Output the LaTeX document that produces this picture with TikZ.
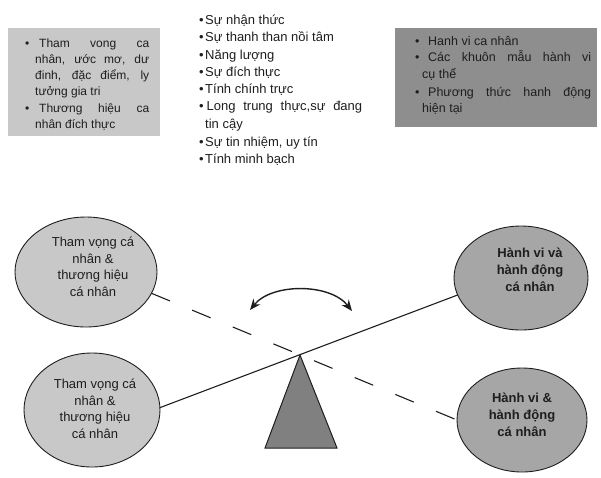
\documentclass[tikz,border=0pt]{standalone}
\usepackage{fontspec}
\setmainfont{Liberation Sans}
\usetikzlibrary{shapes.geometric,arrows.meta}

\definecolor{inkc}{HTML}{1E1E1E}
\definecolor{lightfill}{HTML}{C8C8C8}
\definecolor{darkfill}{HTML}{8E8E8E}
\definecolor{midfill}{HTML}{A6A6A6}
\definecolor{pivotfill}{HTML}{808080}

% bullet item: #1 hang for the wrapped lines, #2 extra gap on the first line, #3 text
\newcommand{\bitem}[3]{\par\noindent\makebox[#1][l]{\strut\textbullet}%
  \parbox[t]{\dimexpr\linewidth-#1\relax}{\strut\hspace*{#2}#3\strut}\par}
% justified block of a given width
\newcommand{\blockof}[2]{\begin{minipage}[t]{#1}\parindent=0pt\parskip=0pt #2\end{minipage}}

\begin{document}
\begin{tikzpicture}[x=1pt,y=-1pt,
  panel/.style={rectangle,inner sep=0pt,outer sep=0pt,draw=none,anchor=north west},
  listtext/.style={inner sep=0pt,anchor=north west,text=inkc},
  bubble/.style={ellipse,draw=inkc,line width=0.9pt,inner sep=0pt,outer sep=0pt},
  bubbletext/.style={align=center,inner sep=0pt,text=inkc,
    font=\fontsize{13}{16.5}\selectfont},
  beam/.style={draw=inkc,line width=1.1pt},
  swing/.style={draw=inkc,line width=1.4pt,{Stealth[length=11pt,width=9pt]}-{Stealth[length=11pt,width=9pt]}}
]
\useasboundingbox (0,0) rectangle (601,477);

% top panels
\node[panel,fill=lightfill,minimum width=152pt,minimum height=108pt] (lbox) at (8,28) {};
\node[panel,fill=darkfill,minimum width=202pt,minimum height=99pt] (rbox) at (395,28) {};

\node[listtext,font=\fontsize{12}{16}\selectfont] (ltext) at (25,36) {\blockof{124pt}{%
  \bitem{10pt}{4pt}{Tham vong ca\linebreak nhân, ước mơ, dư\linebreak đinh, đặc điểm, ly\linebreak tưởng gia tri}%
  \bitem{10pt}{4pt}{Thương hiệu ca\linebreak nhân đích thực}}};

\node[listtext,font=\fontsize{13}{17.25}\selectfont] (mtext) at (199,12.4) {\blockof{163pt}{%
  \bitem{6pt}{0pt}{Sự nhận thức}%
  \bitem{6pt}{0pt}{Sự thanh than nồi tâm}%
  \bitem{6pt}{0pt}{Năng lượng}%
  \bitem{6pt}{0pt}{Sự đích thực}%
  \bitem{6pt}{0pt}{Tính chính trực}%
  \bitem{6pt}{1.5pt}{Long trung thực,sự đang\linebreak tin cậy}%
  \bitem{6pt}{0pt}{Sự tin nhiệm, uy tín}%
  \bitem{6pt}{0pt}{Tính minh bạch}}};

\node[listtext,font=\fontsize{12.5}{16.6}\selectfont] (rtext) at (415,33.5) {\blockof{176pt}{%
  \bitem{7pt}{6pt}{Hanh vi ca nhân}%
  \bitem{7pt}{6pt}{Các khuôn mẫu hành vi\linebreak cụ thể}%
  \bitem{7pt}{6pt}{Phương thức hanh động\linebreak hiện tại}}};

% bubbles
\node[bubble,fill=lightfill,minimum width=142pt,minimum height=110pt] (lt) at (86,272) {};
\node[bubble,fill=lightfill,minimum width=136pt,minimum height=114pt] (lb) at (92,410) {};
\node[bubble,fill=midfill,minimum width=134pt,minimum height=104pt] (rt) at (521,278) {};
\node[bubble,fill=midfill,minimum width=130pt,minimum height=104pt] (rb) at (522,420) {};

\node[bubbletext] (ltt) at ([shift={(7,-5)}]lt.center) {Tham vọng cá\\nhân \&\\thương hiệu\\cá nhân};
\node[bubbletext] (lbt) at ([shift={(3,-1)}]lb.center) {Tham vọng cá\\nhân \&\\thương hiệu\\cá nhân};
\node[bubbletext,font=\bfseries\fontsize{13}{17}\selectfont] (rtt) at ([shift={(9,-8)}]rt.center) {Hành vi và\\hành động\\cá nhân};
\node[bubbletext,font=\bfseries\fontsize{13}{17}\selectfont] (rbt) at ([shift={(0,-5)}]rb.center) {Hành vi \&\\hành động\\cá nhân};

% the two beams crossing at the pivot
\draw[beam] (lb.2) -- (rt.195);
\draw[beam,dash pattern=on 20pt off 24pt] (lt.-18) -- (rb.180);

% pivot
\coordinate (apex) at (300,355);
\coordinate (baseL) at (265,448);
\coordinate (baseR) at (337,448);
\draw[draw=inkc,line width=1pt,fill=pivotfill,line join=miter] (apex) -- (baseL) -- (baseR) -- cycle;

% swinging double arrow
\coordinate (al) at (250,310);
\coordinate (ar) at (352,311);
\draw[swing] (al) .. controls (272,283) and (330,283) .. (ar);
\end{tikzpicture}
\end{document}
